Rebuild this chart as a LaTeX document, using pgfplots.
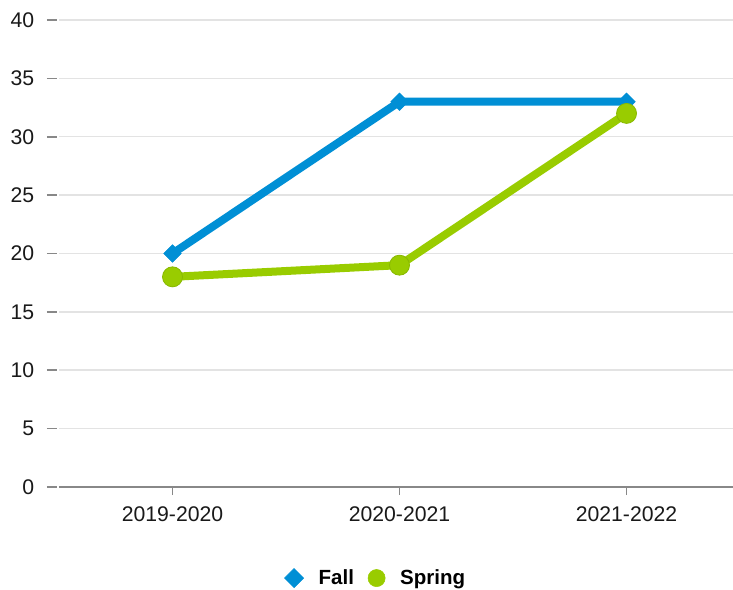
\documentclass[border=0pt]{standalone}
\usepackage{pgfplots}
\pgfplotsset{compat=1.18}
\usepackage{fontspec}
\setmainfont{Liberation Sans}
\definecolor{fallblue}{HTML}{008FD5}
\definecolor{springgreen}{HTML}{99CC00}
\definecolor{springedge}{HTML}{88B800}
\definecolor{gridgray}{HTML}{E3E3E3}
\definecolor{axgray}{HTML}{888888}
\begin{document}
\begin{tikzpicture}
\begin{axis}[
  scale only axis,
  width=674bp, height=467bp,
  xmin=-0.5, xmax=2.469,
  ymin=0, ymax=40,
  clip=false,
  axis x line=bottom, axis y line=left,
  axis line style={-},
  y axis line style={draw=none},
  x axis line style={axgray, line width=1.8bp},
  xtick={0,1,2},
  xticklabels={2019-2020,2020-2021,2021-2022},
  ytick={0,5,...,40},
  tick align=outside,
  xtick style={axgray, line width=1.6bp, /pgfplots/major tick length=8bp},
  ytick style={axgray, line width=1.6bp, /pgfplots/major tick length=10bp, xshift=-2bp},
  ymajorgrids,
  grid style={gridgray, line width=1.5bp},
  /pgf/number format/assume math mode=true,
  tick label style={font=\fontsize{21.2bp}{25bp}\selectfont, text=black!90},
  yticklabel style={xshift=-17bp},
  xticklabel style={yshift=-12bp},
  legend style={at={(0.470,-0.195)}, anchor=center, draw=none, fill=none,
    font=\fontsize{20.5bp}{24bp}\selectfont\bfseries, legend columns=2,
    /tikz/every odd column/.append style={column sep=13bp},
    /tikz/every even column/.append style={column sep=12bp}},
  legend image code/.code={\draw[#1] plot[only marks] coordinates {(0.3cm,0cm)};},
]
\addlegendimage{fallblue, mark=square*, mark size=6.8bp, mark options={rotate=45, fill=fallblue, draw=fallblue, line width=0.5bp}}
\addlegendentry{Fall}
\addlegendimage{springgreen, mark=*, mark size=8.6bp, mark options={fill=springgreen, draw=springgreen, line width=0.5bp}}
\addlegendentry{Spring}
\addplot[forget plot, fallblue, line width=8bp, mark=square*, mark size=6.2bp, mark options={rotate=45, fill=fallblue, draw=fallblue, line width=0.5bp}]
  coordinates {(0,20) (1,33) (2,33)};
\addplot[forget plot, springgreen, line width=8bp, mark=*, mark size=10bp, mark options={fill=springgreen, draw=springedge, line width=0.8bp}]
  coordinates {(0,18) (1,19) (2,32)};
\end{axis}
\pgfresetboundingbox
\path (-59bp,-103bp) rectangle (674bp,487bp);
\end{tikzpicture}
\end{document}
